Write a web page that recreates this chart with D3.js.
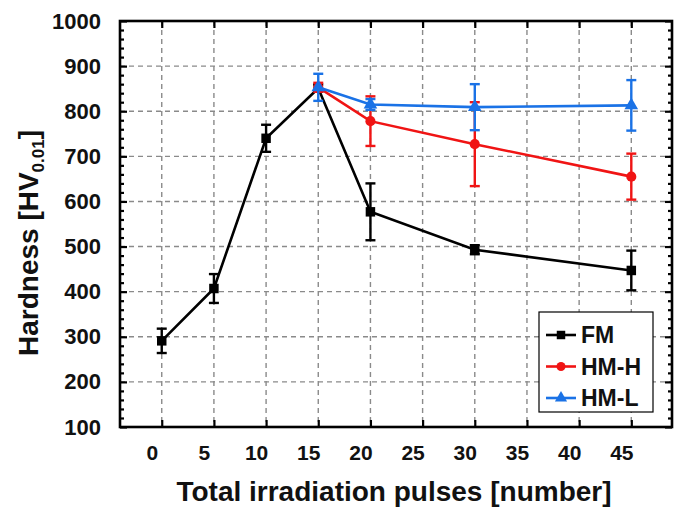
<!DOCTYPE html>
<html><head><meta charset="utf-8">
<script src="https://cdn.jsdelivr.net/npm/d3@7/dist/d3.min.js"></script>
<style>body{margin:0;background:#fff}svg{display:block}</style>
</head><body><svg id="c" width="683" height="509"></svg>
<script>
const pulses = [0, 5, 10, 15, 20, 30, 45];
const fmX = [0, 5, 10, 15, 20, 30, 45];
const fmY = [291, 407, 740, 851, 577, 493, 447];
const fmErr = [27, 32, 30, 8, 63, 10, 44];
const hmhX = [15, 20, 30, 45];
const hmhY = [853, 778, 727, 655];
const hmhErr = [10, 55, 93, 51];
const hmlX = [15, 20, 30, 45];
const hmlY = [853, 815, 809, 813];
const hmlErr = [30, 12, 51, 56];
const xTicks = [0, 5, 10, 15, 20, 25, 30, 35, 40, 45];
const yTicks = [100, 200, 300, 400, 500, 600, 700, 800, 900, 1000];
const seriesNames = ["FM", "HM-H", "HM-L"];
const colors = ["#000000", "#f01414", "#1a72e6"];

const svg = d3.select("#c");
const L = 120, R = 672, T = 21, B = 427;
const x = d3.scaleLinear().domain([-4, 48.9]).range([L, R]);
const y = d3.scaleLinear().domain([100, 1000]).range([B, T]);
const font = "Arial, 'Liberation Sans', sans-serif";

// grid
const g = svg.append("g");
g.selectAll(".gx").data(xTicks).enter().append("line")
  .attr("x1", d => x(d)).attr("x2", d => x(d)).attr("y1", T).attr("y2", B)
  .attr("stroke", "#8a8a8a").attr("stroke-width", 1.4).attr("stroke-dasharray", "5,4");
g.selectAll(".gy").data(yTicks.slice(1, -1)).enter().append("line")
  .attr("y1", d => y(d)).attr("y2", d => y(d)).attr("x1", L).attr("x2", R)
  .attr("stroke", "#8a8a8a").attr("stroke-width", 1.4).attr("stroke-dasharray", "5,4");

// axes with inward ticks
const minorY = d3.range(100, 1001, 20).filter(v => v % 100 !== 0);
const axB = d3.axisBottom(x).tickValues(xTicks).tickSizeInner(-7).tickSizeOuter(0).tickPadding(18).tickFormat(d3.format("d"));
const axT = d3.axisTop(x).tickValues(xTicks).tickSizeInner(-7).tickSizeOuter(0).tickFormat("");
const axL = d3.axisLeft(y).tickValues(yTicks).tickSizeInner(-7).tickSizeOuter(0).tickPadding(19).tickFormat(d3.format("d"));
const axR = d3.axisRight(y).tickValues(yTicks).tickSizeInner(-7).tickSizeOuter(0).tickFormat("");
const axLm = d3.axisLeft(y).tickValues(minorY).tickSizeInner(-4).tickSizeOuter(0).tickFormat("");
const axRm = d3.axisRight(y).tickValues(minorY).tickSizeInner(-4).tickSizeOuter(0).tickFormat("");

function style(fs) {
  return sel => {
    sel.select(".domain").remove();
    sel.selectAll(".tick line").attr("stroke", "#000").attr("stroke-width", 2.2);
    sel.selectAll(".tick text").attr("font-family", font).attr("font-weight", "bold")
      .attr("font-size", fs).attr("fill", "#111");
  };
}
svg.append("g").attr("transform", `translate(0,${B})`).call(axB).call(style(21))
  .selectAll(".tick text").attr("x", -10);
svg.append("g").attr("transform", `translate(0,${T})`).call(axT).call(style(21));
svg.append("g").attr("transform", `translate(${L},0)`).call(axL).call(style(22));
svg.append("g").attr("transform", `translate(${R},0)`).call(axR).call(style(22));
svg.append("g").attr("transform", `translate(${L},0)`).call(axLm).call(style(22));
svg.append("g").attr("transform", `translate(${R},0)`).call(axRm).call(style(22));

// frame
svg.append("rect").attr("x", L).attr("y", T).attr("width", R - L).attr("height", B - T)
  .attr("fill", "none").attr("stroke", "#000").attr("stroke-width", 2.6);

// series
const series = [
  {name: seriesNames[0], xs: fmX, ys: fmY, es: fmErr, color: colors[0], shape: d3.symbolSquare, size: 90},
  {name: seriesNames[1], xs: hmhX, ys: hmhY, es: hmhErr, color: colors[1], shape: d3.symbolCircle, size: 80},
  {name: seriesNames[2], xs: hmlX, ys: hmlY, es: hmlErr, color: colors[2], shape: d3.symbolTriangle, size: 80}
];
const line = d3.line().x(d => x(d[0])).y(d => y(d[1]));
series.forEach(s => {
  const pts = s.xs.map((v, i) => [v, s.ys[i], s.es[i]]);
  const sg = svg.append("g");
  sg.append("path").datum(pts).attr("d", line).attr("fill", "none")
    .attr("stroke", s.color).attr("stroke-width", 2.6);
  const eb = sg.selectAll(".eb").data(pts).enter().append("g");
  eb.append("line").attr("x1", d => x(d[0])).attr("x2", d => x(d[0]))
    .attr("y1", d => y(d[1] - d[2])).attr("y2", d => y(d[1] + d[2]))
    .attr("stroke", s.color).attr("stroke-width", 2.4);
  [-1, 1].forEach(sg2 => {
    eb.append("line").attr("x1", d => x(d[0]) - 5).attr("x2", d => x(d[0]) + 5)
      .attr("y1", d => y(d[1] + sg2 * d[2])).attr("y2", d => y(d[1] + sg2 * d[2]))
      .attr("stroke", s.color).attr("stroke-width", 2.4);
  });
  sg.selectAll(".m").data(pts).enter().append("path")
    .attr("d", d3.symbol().type(s.shape).size(s.size))
    .attr("transform", d => `translate(${x(d[0])},${y(d[1])})`)
    .attr("fill", s.color);
});

// legend
const lg = svg.append("g");
lg.append("rect").attr("x", 539).attr("y", 312).attr("width", 114).attr("height", 100)
  .attr("fill", "#fff").attr("stroke", "#000").attr("stroke-width", 1.2);
series.forEach((s, i) => {
  const yy = 335 + i * 31.5;
  lg.append("line").attr("x1", 546).attr("x2", 576).attr("y1", yy).attr("y2", yy)
    .attr("stroke", s.color).attr("stroke-width", 2.6);
  lg.append("path").attr("d", d3.symbol().type(s.shape).size(s.size * 0.8)())
    .attr("transform", `translate(561,${yy})`).attr("fill", s.color);
  lg.append("text").attr("x", 581).attr("y", yy + 8).text(s.name)
    .attr("font-family", font).attr("font-weight", "bold").attr("font-size", 23).attr("fill", "#111");
});

// axis titles
svg.append("text").attr("x", 394).attr("y", 501).attr("text-anchor", "middle")
  .attr("font-family", font).attr("font-weight", "bold").attr("font-size", 28).attr("fill", "#111")
  .text("Total irradiation pulses [number]");
const yt = svg.append("text").attr("transform", "translate(38,243) rotate(-90)")
  .attr("text-anchor", "middle").attr("font-family", font).attr("font-weight", "bold")
  .attr("font-size", 28).attr("fill", "#111");
yt.append("tspan").text("Hardness [HV");
yt.append("tspan").attr("font-size", 17).attr("dy", 6).text("0.01");
yt.append("tspan").attr("dy", -6).text("]");
</script>
</body></html>
